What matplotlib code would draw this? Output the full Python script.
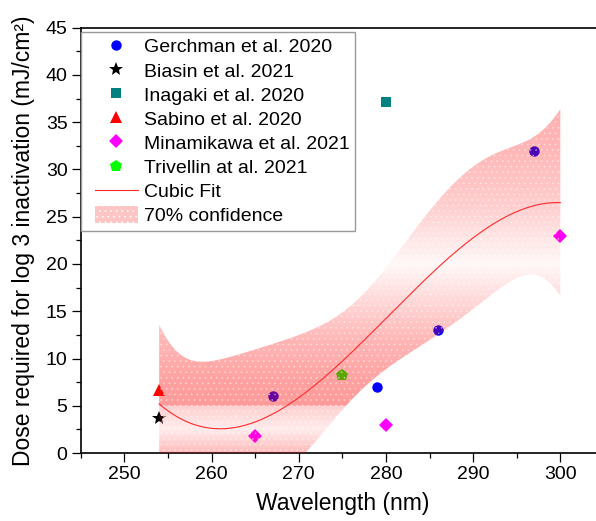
import numpy as np
import matplotlib
matplotlib.use("Agg")
import matplotlib.pyplot as plt
from matplotlib.patches import Polygon, Patch
from matplotlib.lines import Line2D
from matplotlib.legend_handler import HandlerLine2D, HandlerPatch
from matplotlib.ticker import MultipleLocator

plt.rcParams['font.family'] = ['Liberation Sans', 'DejaVu Sans']
plt.rcParams['hatch.linewidth'] = 0.45

# data (wavelength nm, dose mJ/cm2)
gerchman_x = [267, 279, 286, 297]
gerchman_y = [6.0, 7.0, 13.0, 32.0]
biasin_x = [254]
biasin_y = [3.7]
inagaki_x = [280]
inagaki_y = [37.1]
sabino_x = [254]
sabino_y = [6.7]
minamikawa_x = [265, 280, 300]
minamikawa_y = [1.8, 3.0, 23.0]
trivellin_x = [275]
trivellin_y = [8.3]

series = [
    ("Gerchman et al. 2020", gerchman_x, gerchman_y, "o", "#0000ff", 7.5),
    ("Biasin et al. 2021", biasin_x, biasin_y, "*", "black", 10),
    ("Inagaki et al. 2020", inagaki_x, inagaki_y, "s", "#008080", 6.5),
    ("Sabino et al. 2020", sabino_x, sabino_y, "^", "#ff0000", 9),
    ("Minamikawa et al. 2021", minamikawa_x, minamikawa_y, "D", "#ff00ff", 7),
    ("Trivellin at al. 2021", trivellin_x, trivellin_y, "p", "#00ff00", 9),
]

# cubic fit of all points with 70% confidence band of the mean
all_x = np.array(sum([s[1] for s in series], []), dtype=float)
all_y = np.array(sum([s[2] for s in series], []), dtype=float)
coef = np.polyfit(all_x, all_y, 3)
X = np.vander(all_x, 4)
resid = all_y - X @ coef
dof = len(all_x) - 4
s2 = resid @ resid / dof
XtX_inv = np.linalg.inv(X.T @ X)
t70 = 1.119  # t(0.85, 7 dof)

xf = np.linspace(all_x.min(), all_x.max(), 300)
Xf = np.vander(xf, 4)
yf = Xf @ coef
half = t70 * np.sqrt(s2 * np.einsum('ij,jk,ik->i', Xf, XtX_inv, Xf))
lower = yf - half
upper = yf + half

fig = plt.figure(figsize=(5.96, 5.21), dpi=100)
ax = fig.add_axes([0.1354, 0.1305, 0.8779, 0.8163])

handles = []
for label, xs, ys, mk, col, ms in series:
    h, = ax.plot(xs, ys, linestyle="none", marker=mk, color=col, markersize=ms,
                 markeredgewidth=0, label=label, zorder=2)
    handles.append(h)

# gradient band (red with varying alpha), clipped to the band polygon
poly_xy = np.column_stack([np.r_[xf, xf[::-1]], np.r_[lower, upper[::-1]]])
band = Polygon(poly_xy, closed=True, facecolor="none", edgecolor="none")
ax.add_patch(band)
yy = np.linspace(-15, 45, 600)
a_y = [-15, 0, 2.5, 4.99, 5.0, 8, 12, 20, 26, 32, 45]
a_v = [0.32, 0.28, 0.08, 0.2, 0.42, 0.38, 0.3, 0.03, 0.2, 0.3, 0.36]
alpha = np.interp(yy, a_y, a_v)
img = np.zeros((len(yy), 2, 4))
img[..., 0] = 1.0
img[..., 1] = 0.05
img[..., 2] = 0.05
img[..., 3] = alpha[:, None]
im = ax.imshow(img, extent=[xf.min(), xf.max(), -15, 45], origin="lower",
               aspect="auto", interpolation="bilinear", zorder=3)
im.set_clip_path(band)

dots = Polygon(poly_xy, closed=True, facecolor="none", edgecolor="white",
               hatch="...", linewidth=0, alpha=0.45, zorder=3.5)
ax.add_patch(dots)

fit_line, = ax.plot(xf, yf, color="#ff2a2a", lw=0.8, zorder=4, label="Cubic Fit")
handles.append(fit_line)
band_handle = Patch(facecolor="#ffc4c4", edgecolor="white", hatch="...",
                    linewidth=0, label="70% confidence")
handles.append(band_handle)

ax.set_xlim(245, 305)
ax.set_ylim(0, 45)
ax.xaxis.set_major_locator(MultipleLocator(10))
ax.xaxis.set_minor_locator(MultipleLocator(5))
ax.yaxis.set_major_locator(MultipleLocator(5))
ax.yaxis.set_minor_locator(MultipleLocator(2.5))
ax.tick_params(which="major", length=6.5, width=0.9, labelsize=14, pad=3)
ax.tick_params(which="minor", length=3.5, width=0.9)
ax.tick_params(top=False, right=False)
for side in ["left", "bottom", "top"]:
    ax.spines[side].set_linewidth(1.2)
ax.spines["right"].set_visible(False)

ax.set_xlabel("Wavelength (nm)", fontsize=16.5, labelpad=6)
ax.set_ylabel("Dose required for log 3 inactivation (mJ/cm²)", fontsize=16.5,
              labelpad=8)

hpad = 0.45
leg = ax.legend(handles=handles, loc="upper left", bbox_to_anchor=(0.0, 0.99),
                borderaxespad=0, fontsize=14, frameon=True, fancybox=False,
                edgecolor="#999999", framealpha=1, labelspacing=0.26,
                handlelength=2.66, handletextpad=0.33, handleheight=0.95,
                borderpad=0.28,
                handler_map={Line2D: HandlerLine2D(xpad=hpad),
                             Patch: HandlerPatch(xpad=hpad)})
leg.get_frame().set_linewidth(1.0)

fig.savefig("out.png", dpi=100)
